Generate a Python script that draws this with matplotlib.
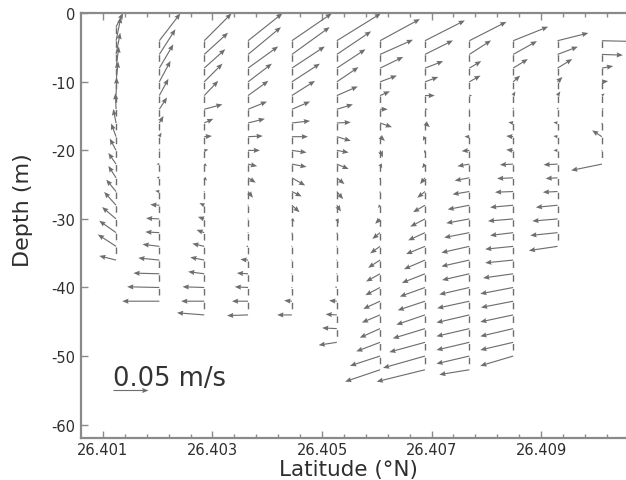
import numpy as np
import matplotlib
matplotlib.use("Agg")
import matplotlib.pyplot as plt

plt.rcParams['font.family'] = ['DejaVu Sans']
plt.rcParams['axes.unicode_minus'] = False

# station latitudes (deg N), west to east
station_lat = [26.40124, 26.40203, 26.40285, 26.40365, 26.40445, 26.40527,
               26.40606, 26.40688, 26.40769, 26.40849, 26.40930, 26.41011]

# 2 m depth bins (m)
bin_depth = [-2, -4, -6, -8, -10, -12, -14, -16, -18, -20, -22, -24, -26, -28,
             -30, -32, -34, -36, -38, -40, -42, -44, -46, -48, -50, -52, -54, -56]

# first bin of each station (index into bin_depth)
first_bin = [0, 1, 1, 1, 1, 1, 1, 1, 1, 1, 1, 1]

# velocity components in cm/s, from the top bin downwards
u1 = [1.0, 0.7, 0.6, 0.4, 0.3, 0.1, -0.1, -0.4, -0.7, -0.9, -1.1, -1.1, -1.4, -1.7, -2.0, -2.4, -2.6, -2.4]
v1 = [2.0, 3.4, 3.1, 3.1, 2.9, 2.6, 2.3, 2.0, 1.9, 1.7, 1.6, 1.7, 1.7, 1.9, 1.7, 1.7, 1.7, 0.6]

u2 = [3.0, 2.3, 2.0, 1.6, 1.3, 1.1, 0.6, 0.3, 0.1, -0.4, -0.4, -0.6, -1.3, -1.9, -2.0, -2.4, -3.0, -3.7, -4.6, -5.3]
v2 = [3.9, 3.6, 3.4, 3.0, 2.4, 1.7, 1.0, 0.6, 0.3, 0.0, 0.1, 0.1, 0.1, 0.1, 0.1, 0.3, 0.3, 0.1, 0.1, 0.0]

u3 = [3.9, 3.4, 3.0, 2.6, 2.0, 2.6, 1.3, 1.1, 0.6, 0.4, 0.4, -0.1, -0.7, -0.9, -1.1, -1.7, -2.0, -2.3, -3.1, -3.3, -3.9]
v3 = [3.9, 3.1, 2.7, 2.6, 2.1, 0.7, 0.6, 0.1, 0.1, -0.3, -0.4, 0.1, 0.3, 0.3, 0.4, 0.4, 0.4, 0.3, 0.1, 0.0, 0.3]

u4 = [4.9, 4.7, 4.3, 3.4, 2.9, 2.7, 2.4, 2.1, 1.7, 1.3, 1.1, 0.7, 0.1, 0.0, -0.1, -0.3, -1.1, -1.6, -1.9, -2.3, -3.0]
v4 = [3.9, 3.9, 3.1, 2.6, 2.1, 1.1, 0.6, 0.1, 0.0, -0.3, -0.7, -0.9, -0.1, 0.0, 0.0, 0.0, 0.1, 0.1, 0.1, 0.0, -0.1]

u5 = [5.7, 5.4, 4.7, 4.0, 3.3, 2.6, 2.6, 2.3, 2.1, 2.1, 1.9, 1.4, 1.1, 0.4, 0.1, 0.0, 0.0, -0.1, -0.1, -1.1, -2.1]
v5 = [3.9, 3.9, 3.1, 2.6, 2.1, 1.1, 0.3, 0.0, -0.3, -0.4, -1.1, -0.7, -1.0, -0.4, -0.3, -0.1, 0.0, 0.0, 0.0, 0.1, 0.0]

u6 = [6.3, 4.9, 4.1, 3.1, 3.0, 2.3, 2.0, 2.0, 1.7, 1.7, 1.1, 0.9, 0.6, 0.3, 0.1, 0.0, 0.1, 0.0, -0.3, -1.1, -1.6, -2.1, -2.6]
v6 = [3.9, 3.3, 2.7, 2.1, 1.3, 0.7, 0.1, -0.6, -0.3, -0.7, -0.9, -1.1, -0.9, -0.6, -0.3, -0.1, 0.0, 0.0, 0.1, 0.1, 0.1, 0.1, -0.4]

u7 = [5.7, 4.7, 3.3, 2.4, 1.4, 1.1, 1.7, 0.7, 0.4, 0.3, 0.1, 0.0, -0.3, -0.7, -1.1, -1.4, -1.7, -2.0, -2.1, -2.4, -2.6, -2.9, -3.4, -4.3, -5.0]
v7 = [3.1, 2.1, 1.6, 0.9, 0.6, 0.0, -0.6, -0.6, -1.0, -0.6, -0.4, -0.3, -0.4, -0.7, -0.9, -1.0, -1.1, -1.1, -1.1, -1.1, -1.1, -1.3, -1.3, -1.4, -1.7]

u8 = [5.7, 4.0, 2.6, 1.9, 1.4, 0.4, 0.7, -0.3, -0.1, -0.4, -0.7, -1.1, -1.7, -2.1, -2.4, -2.7, -3.0, -3.3, -3.6, -3.9, -4.1, -4.6, -5.1, -6.0, -6.9]
v8 = [2.9, 2.0, 1.0, 0.7, 0.0, 0.0, -0.6, -0.6, -0.4, -0.6, -0.9, -0.9, -1.0, -1.1, -1.1, -1.1, -1.3, -1.3, -1.3, -1.3, -1.4, -1.4, -1.4, -1.7, -1.7]

u9 = [5.3, 3.1, 1.7, 1.6, 0.4, 0.1, 0.0, -0.7, -1.1, -1.7, -2.1, -2.4, -3.1, -3.3, -3.6, -4.0, -4.0, -3.9, -4.3, -4.6, -4.7, -4.7, -4.7, -4.7, -4.3]
v9 = [2.7, 2.0, 1.0, 0.9, 0.0, 0.0, 0.0, 0.0, -0.1, -0.3, -0.4, -0.4, -0.6, -0.6, -0.7, -0.9, -0.9, -0.9, -1.0, -1.0, -1.1, -1.1, -1.1, -1.1, -0.7]

u10 = [5.0, 3.4, 2.1, 1.0, 0.3, 0.0, -0.7, -1.0, -1.0, -1.9, -2.3, -2.6, -3.3, -3.6, -3.3, -4.0, -4.0, -4.3, -4.7, -4.6, -4.7, -4.7, -4.7, -4.7]
v10 = [2.0, 1.9, 1.3, 0.9, 0.6, 0.3, 0.1, 0.1, 0.1, -0.1, -0.1, -0.1, -0.3, -0.3, -0.4, -0.4, -0.4, -0.6, -0.9, -0.9, -1.0, -1.1, -1.1, -1.4]

u11 = [4.4, 2.9, 2.1, 0.7, 0.4, 0.1, -0.6, -0.6, -0.6, -2.0, -1.7, -2.1, -3.1, -3.6, -3.9, -4.1]
v11 = [1.1, 1.1, 1.3, 0.7, 0.6, 0.3, 0.1, 0.1, 0.0, -0.1, -0.1, -0.1, -0.3, -0.3, -0.4, -0.6]

u12 = [4.3, 3.0, 1.6, 0.9, 0.4, 0.3, 0.1, -1.4, -0.1, -4.4]
v12 = [-0.1, -0.1, 0.3, 0.1, 0.3, 0.1, -0.3, 0.9, 0.0, -0.9]

u_all = [u1, u2, u3, u4, u5, u6, u7, u8, u9, u10, u11, u12]
v_all = [v1, v2, v3, v4, v5, v6, v7, v8, v9, v10, v11, v12]

key_speed = 5.0  # cm/s  (0.05 m/s)

arrow_col = '#6e6e6e'
axis_col = '#8a8a8a'

fig = plt.figure(figsize=(6.26, 4.81), dpi=100)
ax = fig.add_axes([81 / 626, (481 - 439.3) / 481, 545 / 626, 425 / 481])

# 35 px on screen for 5 cm/s
qscale = key_speed / 0.35

lat_pts, dep_pts, u_pts, v_pts = [], [], [], []
for i in range(len(station_lat)):
    n = len(u_all[i])
    deps = bin_depth[first_bin[i]:first_bin[i] + n]
    ax.plot([station_lat[i], station_lat[i]], [deps[0], deps[-1]], color=arrow_col,
            lw=1.0, dashes=(4.7, 5.2), zorder=1)
    lat_pts += [station_lat[i]] * n
    dep_pts += deps
    u_pts += u_all[i]
    v_pts += v_all[i]

Q = ax.quiver(lat_pts, dep_pts, u_pts, v_pts, angles='uv', scale_units='inches',
              scale=qscale, pivot='tail', color=arrow_col, width=0.0021,
              headwidth=4.5, headlength=5.5, headaxislength=5, zorder=2)

# scale arrow
ax.quiverkey(Q, (113 - 81) / 545, (439.3 - 391) / 425, key_speed, '', labelpos='W',
             coordinates='axes', color=arrow_col)
ax.text((113 - 81) / 545, (439.3 - 386.5) / 425, '0.05 m/s', transform=ax.transAxes,
        fontsize=18.5, color='#333333', ha='left', va='baseline')

ax.set_xlim(26.4006, 26.41055)
ax.set_ylim(-62, 0)
ax.set_xticks([26.401, 26.403, 26.405, 26.407, 26.409])
ax.set_xticklabels(['26.401', '26.403', '26.405', '26.407', '26.409'])
ax.set_xticks(np.arange(26.4014, 26.4105, 0.0004), minor=True)
ax.set_yticks([-60, -50, -40, -30, -20, -10, 0])
ax.set_yticklabels(['-60', '-50', '-40', '-30', '-20', '-10', '0'])

ax.tick_params(which='both', direction='in', top=True, right=False, color=axis_col,
               width=1, labelsize=10.5, labelcolor='#2e2e2e')
ax.tick_params(which='major', length=5)
ax.tick_params(which='minor', length=3)
ax.tick_params(axis='x', which='major', pad=3)
ax.tick_params(axis='y', which='major', pad=4)

for side in ['left', 'bottom', 'top']:
    ax.spines[side].set_color(axis_col)
    ax.spines[side].set_linewidth(1.6)
ax.spines['right'].set_visible(False)

ax.set_xlabel('Latitude (°N)', fontsize=15.5, color='#2e2e2e')
ax.xaxis.set_label_coords((348 - 81) / 545, -0.048)
ax.set_ylabel('Depth (m)', fontsize=16, color='#2e2e2e')
ax.yaxis.set_label_coords(-0.088, (439.3 - 210) / 425)

fig.savefig('out.png', dpi=100)
